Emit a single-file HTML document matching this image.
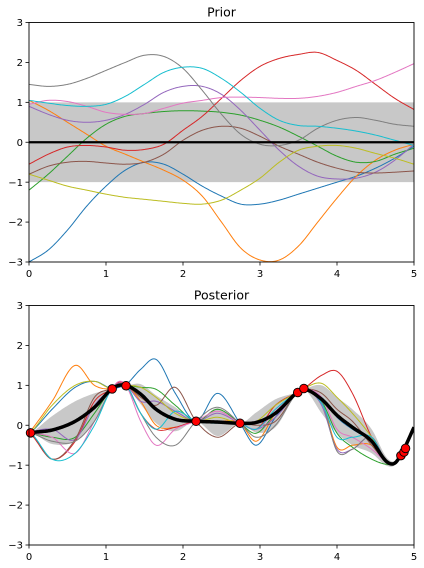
<!DOCTYPE html>
<html><head><meta charset="utf-8"><style>
body{margin:0;background:#fff;width:424px;height:568px;overflow:hidden}
svg{display:block;font-family:"DejaVu Sans","Liberation Sans",sans-serif}
</style></head><body>
<svg id="c" width="424" height="568"></svg>
<script>
const colors=['#1f77b4','#ff7f0e','#2ca02c','#d62728','#9467bd','#8c564b','#e377c2','#7f7f7f','#bcbd22','#17becf'];
const priorX=[0,0.25,0.5,0.75,1,1.25,1.5,1.75,2,2.25,2.5,2.75,3,3.25,3.5,3.75,4,4.25,4.5,4.75,5];
const priorBlue=[-3,-2.7,-2.2,-1.6,-1.1,-0.7,-0.5,-0.55,-0.8,-1.1,-1.35,-1.55,-1.55,-1.45,-1.3,-1.15,-1.0,-0.85,-0.65,-0.4,-0.1];
const priorOrange=[1.05,0.8,0.5,0.2,-0.1,-0.3,-0.5,-0.7,-0.95,-1.35,-2.0,-2.65,-2.95,-2.95,-2.6,-2.0,-1.4,-0.85,-0.45,-0.2,-0.05];
const priorGreen=[-1.2,-0.8,-0.35,0.1,0.45,0.65,0.72,0.77,0.79,0.78,0.75,0.68,0.55,0.38,0.15,-0.1,-0.35,-0.5,-0.48,-0.3,-0.15];
const priorRed=[-0.55,-0.3,-0.12,-0.08,-0.12,-0.2,-0.18,-0.05,0.3,0.65,1.1,1.55,1.9,2.1,2.2,2.25,2.05,1.8,1.45,1.1,0.82];
const priorPurple=[0.9,0.7,0.55,0.5,0.55,0.7,0.95,1.25,1.4,1.4,1.2,0.8,0.3,-0.2,-0.6,-0.85,-0.92,-0.9,-0.75,-0.45,-0.05];
const priorBrown=[-0.8,-0.6,-0.5,-0.48,-0.52,-0.55,-0.5,-0.3,0.05,0.3,0.4,0.35,0.15,-0.1,-0.3,-0.5,-0.65,-0.75,-0.77,-0.75,-0.72];
const priorPink=[0.95,1.05,1.02,0.9,0.75,0.7,0.72,0.85,0.98,1.05,1.12,1.13,1.12,1.1,1.1,1.15,1.25,1.4,1.55,1.75,1.97];
const priorGray=[1.45,1.4,1.45,1.6,1.8,2.0,2.18,2.15,1.85,1.3,0.7,0.2,-0.05,-0.08,0.05,0.35,0.55,0.62,0.55,0.45,0.4];
const priorOlive=[-0.8,-0.95,-1.1,-1.2,-1.3,-1.38,-1.43,-1.48,-1.53,-1.55,-1.45,-1.2,-0.9,-0.5,-0.2,-0.1,-0.08,-0.15,-0.28,-0.4,-0.55];
const priorCyan=[1.05,0.98,0.92,0.9,0.95,1.15,1.45,1.75,1.88,1.85,1.6,1.25,0.85,0.55,0.42,0.4,0.35,0.28,0.18,0.05,-0.08];
const priorSeries=[priorBlue,priorOrange,priorGreen,priorRed,priorPurple,priorBrown,priorPink,priorGray,priorOlive,priorCyan];

const postX=[0,0.02,0.3,0.6,0.85,1.08,1.17,1.26,1.45,1.65,1.9,2.17,2.45,2.74,2.95,3.2,3.49,3.57,3.8,4.0,4.2,4.45,4.65,4.75,4.85,5];
const postMean=[-0.2,-0.19,-0.12,0.1,0.45,0.92,1.0,1.0,0.78,0.4,0.15,0.1,0.08,0.05,0.07,0.3,0.83,0.9,0.65,0.25,-0.05,-0.4,-0.92,-0.95,-0.67,-0.05];
const postStd=[0,0,0.35,0.5,0.35,0,0.02,0,0.25,0.35,0.3,0,0.35,0,0.25,0.35,0,0,0.35,0.45,0.45,0.3,0.1,0.05,0,0.05];
const postBlue=[-0.2,-0.18,0.4,0.95,1.1,0.92,0.95,1.02,1.4,1.65,0.8,0.1,0.8,0.05,-0.5,0.2,0.83,0.9,0.7,0.2,-0.1,-0.4,-0.92,-0.95,-0.67,-0.05];
const postOrange=[-0.2,-0.15,0.6,1.5,1.0,0.92,1.0,1.0,0.6,0.0,-0.05,0.1,0.1,0.05,-0.4,0.3,0.83,0.92,0.6,-0.55,-0.5,-0.5,-0.92,-0.95,-0.67,-0.05];
const postGreen=[-0.2,-0.2,-0.3,-0.3,0.3,0.92,1.0,1.0,0.95,0.9,0.5,0.1,0.4,0.05,-0.2,0.3,0.83,0.9,0.6,-0.2,-0.55,-0.85,-0.98,-0.95,-0.67,-0.05];
const postRed=[-0.2,-0.22,-0.85,-0.4,0.6,0.92,1.08,1.0,0.3,-0.1,-0.05,0.1,0.05,0.05,-0.1,0.5,0.83,0.92,1.25,1.35,0.8,-0.3,-0.92,-0.95,-0.67,-0.05];
const postPurple=[-0.2,-0.18,-0.1,-0.35,0.5,0.92,1.05,1.0,0.6,0.6,0.35,0.1,0.3,0.05,-0.1,0.2,0.83,0.9,0.5,-0.6,-0.6,-0.3,-0.92,-0.95,-0.67,-0.05];
const postBrown=[-0.2,-0.2,-0.85,-0.35,0.7,0.92,1.0,1.0,0.7,0.5,0.95,0.1,-0.3,0.05,0.0,0.1,0.83,0.9,0.8,0.4,0.1,-0.5,-0.92,-0.95,-0.67,-0.05];
const postPink=[-0.2,-0.2,-0.3,-0.7,0.1,0.92,1.1,1.0,0.1,-0.5,-0.1,0.1,0.35,0.05,-0.1,0.35,0.83,0.9,0.7,-0.1,-0.3,-0.6,-0.92,-0.95,-0.67,-0.05];
const postGray=[-0.2,-0.2,-0.4,-0.4,0.1,0.92,1.0,1.0,0.3,-0.3,-0.5,0.1,0.45,0.05,-0.3,0.0,0.83,0.9,0.6,-0.65,-0.6,-0.3,-0.92,-0.95,-0.67,-0.05];
const postOlive=[-0.2,-0.18,0.5,1.0,1.1,0.92,1.0,1.0,0.95,0.7,0.3,0.1,0.2,0.05,0.1,0.5,0.83,0.92,1.05,0.7,0.3,-0.3,-0.92,-0.95,-0.67,-0.05];
const postCyan=[-0.2,-0.2,-0.85,-0.7,0.0,0.92,1.0,1.0,0.3,-0.1,0.35,0.1,0.05,0.05,-0.1,0.4,0.83,0.9,0.55,-0.3,-0.3,-0.3,-0.92,-0.95,-0.67,-0.05];
const postSeries=[postBlue,postOrange,postGreen,postRed,postPurple,postBrown,postPink,postGray,postOlive,postCyan];

const obsX=[0.02,1.08,1.26,2.17,2.74,3.49,3.57,4.83,4.87,4.89];
const obsY=[-0.19,0.91,0.99,0.1,0.05,0.82,0.92,-0.76,-0.67,-0.58];
const xTicks=[0,1,2,3,4,5];
const yTicks=[-3,-2,-1,0,1,2,3];

const NS='http://www.w3.org/2000/svg';
const svg=document.getElementById('c');
function mk(t,a,p){const e=document.createElementNS(NS,t);for(const k in a)e.setAttribute(k,a[k]);(p||svg).appendChild(e);return e;}
function interp(xs,ys,x){
  let i=0;while(i<xs.length-2&&x>xs[i+1])i++;
  const x0=xs[i],x1=xs[i+1],h=x1-x0,t=(x-x0)/h;
  const slope=(a,b)=>(ys[b]-ys[a])/(xs[b]-xs[a]);
  const m0=i>0?(slope(i-1,i)+slope(i,i+1))/2:slope(i,i+1);
  const m1=i+2<xs.length?(slope(i,i+1)+slope(i+1,i+2))/2:slope(i,i+1);
  const t2=t*t,t3=t2*t;
  return (2*t3-3*t2+1)*ys[i]+(t3-2*t2+t)*h*m0+(-2*t3+3*t2)*ys[i+1]+(t3-t2)*h*m1;
}
function panel(top,title,name){
  const L=29,R=414,T=top,B=top+239.5;
  const sx=v=>L+(v/5)*(R-L), sy=v=>T+(3-v)/6*(B-T);
  const g=mk('g',{});
  
  
  const cp=mk('clipPath',{id:'cp'+name},g);mk('rect',{x:L,y:T,width:R-L,height:B-T},cp);
  const plot=mk('g',{'clip-path':'url(#cp'+name+')'},g);
  return {g,plot,sx,sy,L,R,T,B,title};
}
function axes(p){
  const t=mk('text',{x:(p.L+p.R)/2,y:p.T-6,'text-anchor':'middle','font-size':'12.5',fill:'#000'},p.g);
  t.textContent=p.title;
  
  
  const f=mk('rect',{x:p.L,y:p.T,width:p.R-p.L,height:p.B-p.T,fill:'none',stroke:'#000','stroke-width':0.9},p.g);
  
  
  xTicks.forEach(v=>{const x=p.sx(v);mk('line',{x1:x,x2:x,y1:p.B,y2:p.B+3.5,stroke:'#000','stroke-width':0.8},p.g);
    const l=mk('text',{x:x,y:p.B+15,'text-anchor':'middle','font-size':'10'},p.g);l.textContent=v;
    
    });
  yTicks.forEach(v=>{const y=p.sy(v);mk('line',{x1:p.L-3.5,x2:p.L,y1:y,y2:y,stroke:'#000','stroke-width':0.8},p.g);
    const l=mk('text',{x:p.L-6,y:y+3.6,'text-anchor':'end','font-size':'10'},p.g);l.textContent=v<0?'\u2212'+(-v):v;
    
    });
}
function curve(p,xs,ys,col,w,name){
  let d='';for(let k=0;k<=400;k++){const x=5*k/400;d+=(k?'L':'M')+p.sx(x).toFixed(2)+','+p.sy(interp(xs,ys,x)).toFixed(2);}
  const e=mk('path',{d:d,fill:'none',stroke:col,'stroke-width':w},p.plot);
  
  
}
// Prior
const p1=panel(22.5,'Prior','prior-panel');
const zeros=priorX.map(()=>0), ones=priorX.map(()=>1);
let bd='M'+p1.sx(0)+','+p1.sy(1)+'L'+p1.sx(5)+','+p1.sy(1)+'L'+p1.sx(5)+','+p1.sy(-1)+'L'+p1.sx(0)+','+p1.sy(-1)+'Z';
const b1=mk('path',{d:bd,fill:'#c8c8c8'},p1.plot);


priorSeries.forEach((s,i)=>curve(p1,priorX,s,colors[i],1,'prior-sample-'+(i+1)));
curve(p1,priorX,zeros,'#000',2.2,'prior-mean-line');
axes(p1);
// Posterior
const p2=panel(305.5,'Posterior','posterior-panel');
let up='',lo='';
for(let k=0;k<=400;k++){const x=5*k/400,m=interp(postX,postMean,x),s=Math.max(0,interp(postX,postStd,x));
  up+=(k?'L':'M')+p2.sx(x).toFixed(2)+','+p2.sy(m+s).toFixed(2);}
for(let k=400;k>=0;k--){const x=5*k/400,m=interp(postX,postMean,x),s=Math.max(0,interp(postX,postStd,x));
  lo+='L'+p2.sx(x).toFixed(2)+','+p2.sy(m-s).toFixed(2);}
const b2=mk('path',{d:up+lo+'Z',fill:'#c8c8c8'},p2.plot);


postSeries.forEach((s,i)=>curve(p2,postX,s,colors[i],1,'posterior-sample-'+(i+1)));
curve(p2,postX,postMean,'#000',3.5,'posterior-mean-line');
obsX.forEach((x,i)=>{const c=mk('circle',{cx:p2.sx(x),cy:p2.sy(obsY[i]),r:4.3,fill:'#ff0000',stroke:'#000','stroke-width':0.9},p2.g);
  
  });
axes(p2);
</script>
</body></html>
